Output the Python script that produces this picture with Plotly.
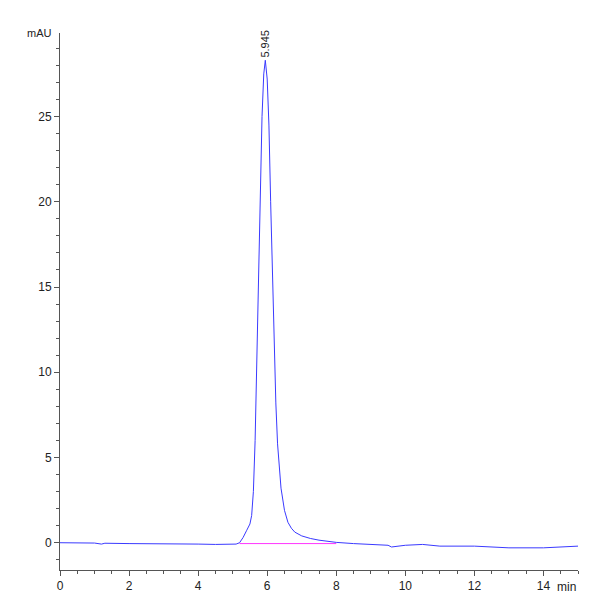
import plotly.graph_objects as go

time_min = [0, 1, 1.2, 1.3, 2, 3, 4, 4.5, 5.0, 5.1, 5.2, 5.3, 5.4, 5.5, 5.55, 5.6, 5.65, 5.7, 5.75, 5.8, 5.85,
            5.9, 5.945, 6.0, 6.05, 6.1, 6.15, 6.2, 6.25, 6.3, 6.4, 6.5, 6.6, 6.7, 6.8, 7.0, 7.25, 7.5,
            8.0, 8.5, 9.0, 9.5, 9.6, 10, 10.5, 11, 12, 12.5, 13, 14, 14.5, 15]
signal_mau = [0, -0.02, -0.08, -0.03, -0.05, -0.05, -0.08, -0.1, -0.1, -0.08, 0.0, 0.3, 0.7, 1.1, 1.6, 3.0, 6.0, 10.5,
              15.5, 20.5, 25.0, 27.5, 28.3, 27.2, 24.5, 20.0, 15.5, 11.5, 8.2, 5.8, 3.2, 1.9, 1.2, 0.85, 0.62,
              0.4, 0.25, 0.15, 0.02, -0.05, -0.1, -0.15, -0.25, -0.15, -0.1, -0.2, -0.2, -0.25, -0.3, -0.3, -0.25, -0.2]
peak_rt = 5.945
peak_top = 28.3
baseline_t = [5.2, 8.0]
baseline_y = [-0.05, -0.05]

fig = go.Figure()
fig.add_trace(go.Scatter(x=baseline_t, y=baseline_y, mode="lines",
                         line=dict(color="#ff33ff", width=1), hoverinfo="skip"))
fig.add_trace(go.Scatter(x=time_min, y=signal_mau, mode="lines",
                         line=dict(color="#3a3aff", width=1)))
fig.add_annotation(x=peak_rt, y=peak_top, text="5.945", textangle=-90, showarrow=False,
                   yanchor="bottom", yshift=1, font=dict(family="Arial", size=11, color="#222"))
fig.add_annotation(x=0, y=29.9, xref="paper", yref="y", text="mAU", showarrow=False,
                   xanchor="right", xshift=-6, font=dict(family="Arial", size=11, color="#222"))
fig.add_annotation(x=1, y=0, xref="paper", yref="paper", text="min", showarrow=False,
                   xanchor="right", yanchor="top", yshift=-8, bgcolor="white",
                   font=dict(family="Arial", size=12, color="#222"))

axis_common = dict(showgrid=False, zeroline=False, showline=True, linecolor="#555", automargin=False,
                   ticks="outside", tickcolor="#555", ticklen=5,
                   tickfont=dict(family="Arial", size=12, color="#222"))
fig.update_xaxes(range=[0, 15], dtick=2, minor=dict(dtick=0.5, ticks="outside", ticklen=3, tickcolor="#555"),
                 **axis_common)
fig.update_yaxes(range=[-1.6, 29.9], dtick=5, minor=dict(dtick=1, ticks="outside", ticklen=3, tickcolor="#555"),
                 **axis_common)
fig.update_layout(width=600, height=600, showlegend=False, plot_bgcolor="white", paper_bgcolor="white",
                  margin=dict(l=52, r=30, t=25, b=38))
fig.write_html("out.html")
